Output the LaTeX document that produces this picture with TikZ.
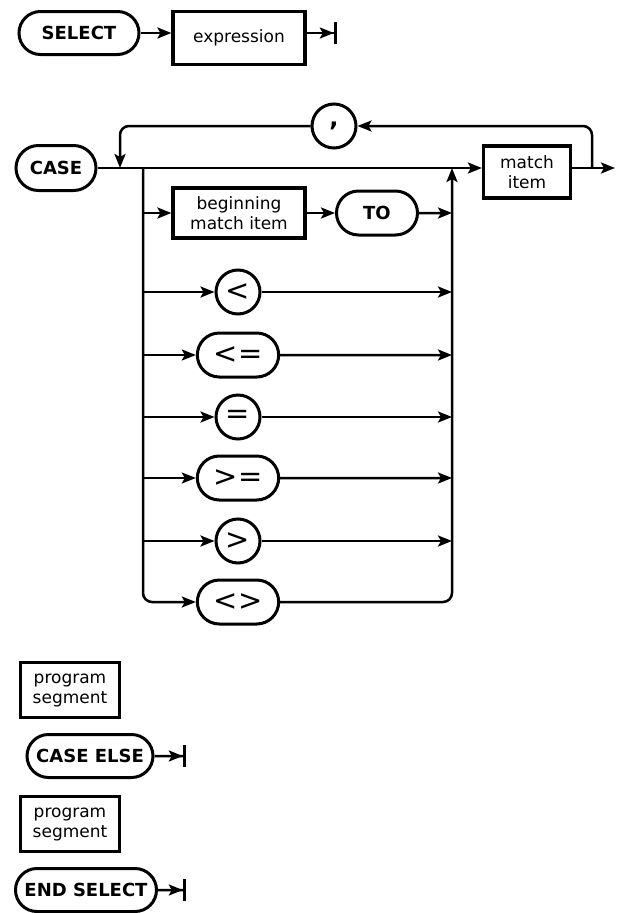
\documentclass[tikz,border=0pt]{standalone}
\usepackage{fontspec}
\setmainfont{DejaVu Sans}
\usetikzlibrary{arrows.meta,shapes.misc}
\begin{document}
\begin{tikzpicture}[x=1pt, y=-1pt,
  kw/.style={draw, line width=3pt, rounded rectangle, minimum height=43pt, inner xsep=4pt, font=\fontsize{18}{19}\selectfont\bfseries},
  op/.style={draw, line width=3pt, rounded rectangle, minimum height=44pt, minimum width=88pt, font=\fontsize{29}{29}\selectfont},
  rnd/.style={draw, line width=3pt, circle, minimum size=44pt, inner sep=0pt, font=\fontsize{29}{29}\selectfont},
  box/.style={draw, line width=3.2pt, align=center, inner sep=0pt, font=\fontsize{17}{20}\selectfont},
  conn/.style={line width=2.5pt, -{Stealth[length=14pt,width=11pt,inset=3pt]}},
  stop/.style={line width=2.5pt, -{Stealth[length=14pt,width=11pt,inset=3pt,sep=0pt]Bar[width=22pt,line width=3.2pt]}}]
  \useasboundingbox (0,0) rectangle (616,913);
  % SELECT expression
  \node[kw, minimum width=128pt] (sel) at (79,33) {SELECT};
  \node[box, minimum width=132pt, minimum height=53pt] (expr) at (239,38) {expression};
  \coordinate (selend) at (337,33);
  \draw[conn] (sel.east) -- (sel.east -| expr.west);
  \draw[stop] (sel.east -| expr.east) -- (selend);
  % CASE main line
  \node[kw, minimum width=88pt, minimum height=45pt] (case) at (56,168) {CASE};
  \node[box, minimum width=87pt, minimum height=52pt] (match) at (527,172) {match\\item};
  \coordinate (out) at (615,168);
  \draw[conn] (case.east) -- (case.east -| match.west);
  \draw[conn] (case.east -| match.east) -- (out);
  % repeat through the comma
  \node[rnd] (comma) at (334,126) {\raisebox{3pt}{\fontsize{24}{24}\selectfont\bfseries,}};
  \coordinate (loopr) at (592,168);
  \coordinate (loopl) at (120,168);
  \draw[conn, rounded corners=9pt] (loopr) |- (comma);
  \draw[conn, rounded corners=9pt] (comma) -| (loopl);
  % branches
  \coordinate (lb) at (143,168);
  \coordinate (rb) at (452,168);
  \node[box, minimum width=132pt, minimum height=50pt] (bmi) at (239,213) {beginning\\match item};
  \node[kw, minimum width=89pt, minimum height=44pt] (to) at (377,213) {TO};
  \draw[conn] (lb |- bmi) -- (bmi);
  \draw[conn] (bmi) -- (to);
  \draw[conn] (to) -- (rb |- to);
  \foreach \nm/\y/\st/\txt in {lt/292/rnd/<, le/355/op/<=, eq/417/rnd/=, ge/478/op/>=, gt/541/rnd/>} {
    \node[\st] (\nm) at (238,\y) {\txt};
    \draw[conn] (lb |- \nm) -- (\nm);
    \draw[conn] (\nm) -- (rb |- \nm);
  }
  \node[op] (ne) at (238,602) {<>};
  \draw[conn, rounded corners=9pt] (lb) |- (ne);
  \draw[conn, rounded corners=9pt] (ne) -| (rb);
  % CASE ELSE and END SELECT
  \node[box, minimum width=99pt, minimum height=55pt] (seg1) at (70,690) {program\\segment};
  \node[kw, minimum width=134pt] (celse) at (90,756) {CASE ELSE};
  \coordinate (celseend) at (186,756);
  \draw[stop] (celse) -- (celseend);
  \node[box, minimum width=99pt, minimum height=55pt] (seg2) at (70,824) {program\\segment};
  \node[kw, minimum width=143pt, inner xsep=1pt] (esel) at (86,890) {END SELECT};
  \coordinate (eselend) at (186,890);
  \draw[stop] (esel) -- (eselend);
\end{tikzpicture}
\end{document}
